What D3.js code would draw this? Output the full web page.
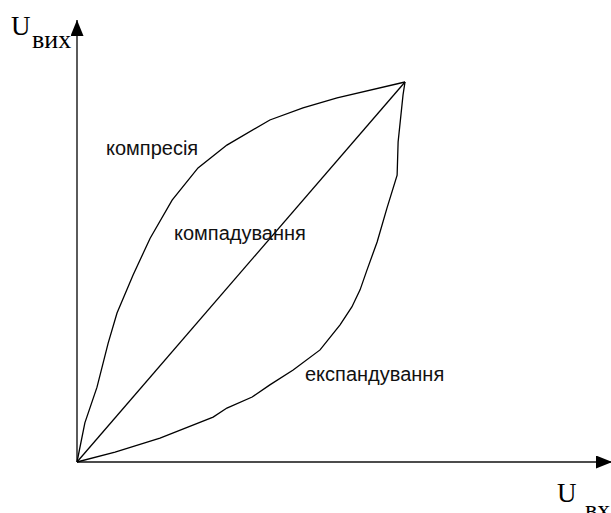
<!DOCTYPE html>
<html>
<head>
<meta charset="utf-8">
<script src="https://cdn.jsdelivr.net/npm/d3@7"></script>
<style>
  body { margin: 0; background: #fff; }
</style>
</head>
<body>
<script>
var w = 611;
var h = 513;

// transfer curves, input level (0..1) vs output level (0..1)
var compressX = [0, 0.024, 0.061, 0.095, 0.122, 0.171, 0.223, 0.290, 0.369, 0.457, 0.588, 0.689, 0.793, 1];
var compressY = [0, 0.103, 0.197, 0.313, 0.392, 0.492, 0.589, 0.689, 0.774, 0.834, 0.900, 0.932, 0.958, 1];

var linearX = [0, 1];
var linearY = [0, 1];

var expandX = [0, 0.116, 0.253, 0.415, 0.457, 0.534, 0.588, 0.659, 0.741, 0.802, 0.838, 0.863, 0.884, 0.915, 0.945, 0.976, 0.979, 0.994, 1];
var expandY = [0, 0.026, 0.063, 0.118, 0.142, 0.171, 0.203, 0.242, 0.295, 0.361, 0.408, 0.453, 0.505, 0.579, 0.668, 0.755, 0.842, 0.966, 1];

var curveNames = ["компресія", "компадування", "експандування"];

var x = d3.scaleLinear().domain([0, 1]).range([77, 405]);
var y = d3.scaleLinear().domain([0, 1]).range([462, 82]);

var svg = d3.select("body")
            .append("svg")
            .attr("width", w)
            .attr("height", h);

// arrow heads for the axes
svg.append("defs").append("marker")
    .attr("id", "arrow")
    .attr("viewBox", "0 0 16 13")
    .attr("refX", 16)
    .attr("refY", 6.5)
    .attr("markerWidth", 16)
    .attr("markerHeight", 13)
    .attr("markerUnits", "userSpaceOnUse")
    .attr("orient", "auto")
  .append("path")
    .attr("d", "M0,0 L16,6.5 L0,13 Z")
    .attr("fill", "#000");

// y axis
svg.append("line")
    .attr("x1", x(0)).attr("y1", y(0))
    .attr("x2", x(0)).attr("y2", 20)
    .attr("stroke", "#333")
    .attr("stroke-width", 1.6)
    .attr("marker-end", "url(#arrow)");

// x axis
svg.append("line")
    .attr("x1", x(0)).attr("y1", y(0))
    .attr("x2", 612).attr("y2", y(0))
    .attr("stroke", "#111")
    .attr("stroke-width", 1.6)
    .attr("marker-end", "url(#arrow)");

var line = d3.line()
    .x(function(d){ return x(d[0]); })
    .y(function(d){ return y(d[1]); });

var series = [
    d3.zip(compressX, compressY),
    d3.zip(linearX, linearY),
    d3.zip(expandX, expandY)
];

svg.selectAll("path.curve")
    .data(series)
    .enter()
    .append("path")
    .attr("class", "curve")
    .attr("d", line)
    .attr("fill", "none")
    .attr("stroke", "#000")
    .attr("stroke-width", 1.3);

// curve labels
var labelPos = [[106, 155], [174, 240], [305, 381]];

svg.selectAll("text.name")
    .data(curveNames)
    .enter()
    .append("text")
    .attr("class", "name")
    .attr("x", function(d, i){ return labelPos[i][0]; })
    .attr("y", function(d, i){ return labelPos[i][1]; })
    .attr("font-family", "Liberation Sans, Arial, sans-serif")
    .attr("font-size", 20)
    .attr("fill", "#111")
    .text(function(d){ return d; });

// axis titles
var serif = "Liberation Serif, Times New Roman, serif";

svg.append("text").attr("x", 11).attr("y", 35)
    .attr("font-family", serif).attr("font-size", 27).text("U");
svg.append("text").attr("x", 32).attr("y", 48)
    .attr("font-family", serif).attr("font-size", 26).text("вих");

svg.append("text").attr("x", 557).attr("y", 502)
    .attr("font-family", serif).attr("font-size", 27).text("U");
svg.append("text").attr("x", 585).attr("y", 518)
    .attr("font-family", serif).attr("font-size", 26).text("вх");
</script>
</body>
</html>
